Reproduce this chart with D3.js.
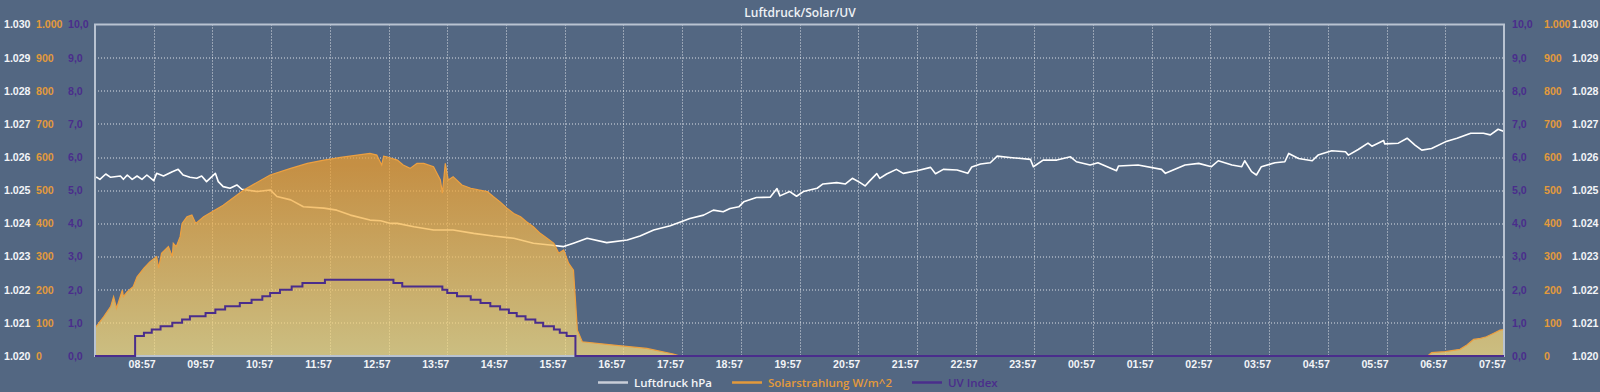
<!DOCTYPE html>
<html>
<head>
<meta charset="utf-8">
<script src="https://cdn.jsdelivr.net/npm/d3@7"></script>
<style>
    html, body { margin: 0; padding: 0; background: #536782; }
    svg { display: block; font-family: "Open Sans", sans-serif; }
    .grid line { stroke: #ffffff; stroke-opacity: 0.8; stroke-dasharray: 1,2; }
    .tick text { font-size: 10.6px; font-weight: 600; }
</style>
</head>
<body>
<div id="chart"></div>
<script>
//----------------------------
// Data
//----------------------------
var title = "Luftdruck/Solar/UV";

var xTickLabels = ["08:57", "09:57", "10:57", "11:57", "12:57", "13:57", "14:57", "15:57", "16:57", "17:57",
    "18:57", "19:57", "20:57", "21:57", "22:57", "23:57", "00:57", "01:57", "02:57", "03:57",
    "04:57", "05:57", "06:57", "07:57"];

var seriesNames = ["Luftdruck hPa", "Solarstrahlung W/m^2", "UV Index"];

// Luftdruck hPa
var pressureTimes = ["07:57", "07:59", "08:02", "08:08", "08:13", "08:23", "08:26", "08:30", "08:35", "08:40",
    "08:45", "08:50", "08:57", "09:00", "09:07", "09:16", "09:22", "09:27", "09:34", "09:41",
    "09:46", "09:51", "10:00", "10:03", "10:08", "10:15", "10:22", "10:27", "10:43", "10:56",
    "11:03", "11:17", "11:30", "11:51", "12:04", "12:18", "12:38", "12:49", "12:59", "13:06",
    "13:23", "13:43", "14:03", "14:24", "14:44", "15:05", "15:25", "15:42", "15:56", "16:06",
    "16:20", "16:40", "17:01", "17:14", "17:28", "17:45", "18:05", "18:19", "18:29", "18:39",
    "18:46", "18:55", "19:00", "19:13", "19:27", "19:34", "19:37", "19:47", "19:54", "20:01",
    "20:15", "20:21", "20:35", "20:44", "20:51", "20:59", "21:04", "21:09", "21:16", "21:19",
    "21:26", "21:36", "21:43", "21:57", "22:11", "22:16", "22:24", "22:38", "22:49", "22:53",
    "23:02", "23:12", "23:19", "23:32", "23:53", "23:56", "00:06", "00:20", "00:34", "00:40",
    "00:54", "01:02", "01:21", "01:23", "01:43", "02:07", "02:11", "02:31", "02:45", "02:58",
    "03:05", "03:19", "03:29", "03:32", "03:39", "03:44", "03:49", "04:03", "04:13", "04:17",
    "04:27", "04:41", "04:47", "05:01", "05:15", "05:18", "05:28", "05:38", "05:42", "05:54",
    "05:55", "06:09", "06:18", "06:26", "06:33", "06:43", "06:57", "07:09", "07:23", "07:36",
    "07:43", "07:51", "07:57"];
var pressureValues = [1025.38, 1025.39, 1025.33, 1025.49, 1025.39, 1025.43, 1025.33, 1025.46, 1025.33, 1025.43,
    1025.33, 1025.46, 1025.29, 1025.51, 1025.43, 1025.56, 1025.63, 1025.46, 1025.39, 1025.36,
    1025.43, 1025.26, 1025.51, 1025.26, 1025.11, 1025.06, 1025.16, 1025.03, 1024.96, 1025.01,
    1024.81, 1024.71, 1024.50, 1024.46, 1024.40, 1024.25, 1024.10, 1024.08, 1024.00, 1024.00,
    1023.90, 1023.80, 1023.80, 1023.70, 1023.62, 1023.55, 1023.40, 1023.35, 1023.30, 1023.40,
    1023.55, 1023.42, 1023.50, 1023.62, 1023.80, 1023.93, 1024.15, 1024.25, 1024.40, 1024.35,
    1024.45, 1024.50, 1024.65, 1024.78, 1024.79, 1025.05, 1024.83, 1024.96, 1024.82, 1024.96,
    1025.06, 1025.19, 1025.23, 1025.19, 1025.36, 1025.23, 1025.13, 1025.29, 1025.50, 1025.36,
    1025.49, 1025.63, 1025.51, 1025.59, 1025.69, 1025.50, 1025.63, 1025.61, 1025.51, 1025.70,
    1025.79, 1025.83, 1026.03, 1025.99, 1025.93, 1025.71, 1025.91, 1025.91, 1026.01, 1025.86,
    1025.76, 1025.83, 1025.59, 1025.73, 1025.76, 1025.63, 1025.51, 1025.76, 1025.81, 1025.71,
    1025.89, 1025.76, 1025.71, 1025.89, 1025.56, 1025.46, 1025.71, 1025.83, 1025.86, 1026.11,
    1025.96, 1025.89, 1026.06, 1026.19, 1026.16, 1026.06, 1026.23, 1026.42, 1026.33, 1026.50,
    1026.40, 1026.42, 1026.57, 1026.36, 1026.21, 1026.26, 1026.46, 1026.57, 1026.72, 1026.72,
    1026.67, 1026.84, 1026.77];

// Solarstrahlung W/m^2
var solarTimes = ["07:57", "07:58", "08:06", "08:13", "08:16", "08:19", "08:25", "08:26", "08:30", "08:36",
    "08:40", "08:47", "08:53", "09:00", "09:02", "09:05", "09:12", "09:16", "09:17", "09:20",
    "09:24", "09:26", "09:31", "09:36", "09:40", "09:48", "10:08", "10:29", "10:56", "11:17",
    "11:34", "11:51", "12:08", "12:25", "12:38", "12:45", "12:50", "12:52", "12:55", "13:06",
    "13:12", "13:19", "13:26", "13:33", "13:43", "13:50", "13:52", "13:55", "13:58", "14:03",
    "14:12", "14:21", "14:29", "14:38", "14:44", "14:51", "14:58", "15:05", "15:12", "15:18",
    "15:25", "15:32", "15:39", "15:46", "15:51", "15:56", "16:01", "16:06", "16:10", "16:15",
    "16:47", "17:21", "17:48", "17:55", "06:39", "06:43", "06:57", "07:12", "07:19", "07:26",
    "07:33", "07:39", "07:46", "07:53", "07:57"];
var solarValues = [85, 88, 119, 149, 179, 144, 199, 179, 194, 209,
    239, 265, 284, 300, 265, 310, 330, 300, 340, 330,
    360, 400, 420, 425, 400, 420, 455, 501, 546, 566,
    581, 591, 599, 606, 611, 606, 576, 603, 601, 591,
    576, 566, 581, 581, 571, 531, 491, 581, 531, 541,
    516, 506, 501, 496, 481, 465, 446, 430, 420, 405,
    390, 370, 355, 340, 310, 320, 280, 259, 78, 43,
    33, 23, 6, 0, 0, 10, 13, 20, 33, 50,
    53, 58, 68, 78, 80];

// UV Index (step changes)
var uvTimes = ["07:57", "08:38", "08:47", "08:55", "09:04", "09:16", "09:26", "09:34", "09:50", "10:00",
    "10:10", "10:25", "10:37", "10:48", "10:56", "11:06", "11:18", "11:29", "11:52", "13:02",
    "13:11", "13:52", "13:57", "14:07", "14:21", "14:31", "14:41", "14:51", "15:00", "15:08",
    "15:17", "15:27", "15:35", "15:46", "15:52", "15:59", "16:08", "07:57"];
var uvValues = [0, 0.6, 0.7, 0.8, 0.9, 1.0, 1.1, 1.2, 1.3, 1.4,
    1.5, 1.6, 1.7, 1.8, 1.9, 2.0, 2.1, 2.2, 2.3, 2.2,
    2.1, 2.0, 1.9, 1.8, 1.7, 1.6, 1.5, 1.4, 1.3, 1.2,
    1.1, 1.0, 0.9, 0.8, 0.7, 0.6, 0, 0];

var pressureTicks = [1020, 1021, 1022, 1023, 1024, 1025, 1026, 1027, 1028, 1029, 1030];
var solarTicks = [0, 100, 200, 300, 400, 500, 600, 700, 800, 900, 1000];
var uvTicks = [0, 1, 2, 3, 4, 5, 6, 7, 8, 9, 10];

//----------------------------
// Layout / colours
//----------------------------
var width = 1600, height = 392;
var margin = {top: 24.5, right: 96, bottom: 36, left: 95};
var innerW = width - margin.left - margin.right,
    innerH = height - margin.top - margin.bottom;

var colWhite = "#ffffff",
    colOrange = "#e39a3b",
    colPurple = "#4a2d8c",
    colFrame = "#b9c3d1";

// German number format (1.030 / 10,0)
var de = d3.formatLocale({decimal: ",", thousands: ".", grouping: [3], currency: ["", " €"]});
var fmtInt = de.format(",.0f"),
    fmtOne = de.format(",.1f");

// parse "HH:MM" strings in order, rolling over to the next day
function toDates(times) {
    var day = 0, prev = -1;
    return times.map(function (t) {
        var p = t.split(":"), m = +p[0] * 60 + +p[1];
        if (m < prev) day++;
        prev = m;
        return new Date(2024, 0, 1 + day, +p[0], +p[1]);
    });
}

var pressureData = toDates(pressureTimes).map((d, i) => ({t: d, v: pressureValues[i]}));
var solarData = toDates(solarTimes).map((d, i) => ({t: d, v: solarValues[i]}));
var uvData = toDates(uvTimes).map((d, i) => ({t: d, v: uvValues[i]}));
var tickDates = toDates(xTickLabels);

//----------------------------
// Scales
//----------------------------
var xScale = d3.scaleTime()
    .domain([new Date(2024, 0, 1, 7, 57), new Date(2024, 0, 2, 7, 57)])
    .range([0, innerW]);
var yPressure = d3.scaleLinear().domain([1020, 1030]).range([innerH, 0]);
var ySolar = d3.scaleLinear().domain([0, 1000]).range([innerH, 0]);
var yUV = d3.scaleLinear().domain([0, 10]).range([innerH, 0]);

var svg = d3.select("#chart")
    .append("svg")
    .attr("width", width)
    .attr("height", height);

svg.append("rect").attr("width", width).attr("height", height).attr("fill", "#536782");

// solar gradient
var grad = svg.append("defs").append("linearGradient")
    .attr("id", "solarGrad")
    .attr("gradientUnits", "userSpaceOnUse")
    .attr("x1", 0).attr("x2", 0)
    .attr("y1", margin.top + ySolar(650))
    .attr("y2", margin.top + ySolar(0));
grad.append("stop").attr("offset", "0%").attr("stop-color", "#f19f2c");
grad.append("stop").attr("offset", "100%").attr("stop-color", "#fbe88c");

// title
svg.append("text")
    .attr("x", margin.left + innerW / 2 + 0.5)
    .attr("y", 17)
    .attr("text-anchor", "middle")
    .attr("fill", "#eef1f5")
    .style("font-size", "12px")
    .style("font-weight", "600")
    .text(title);

var g = svg.append("g")
    .attr("transform", "translate(" + margin.left + "," + margin.top + ")");

//----------------------------
// Grid
//----------------------------
g.append("g")
    .attr("class", "grid")
    .selectAll("line.v")
    .data(tickDates.slice(0, -1))
    .enter().append("line")
    .attr("x1", d => Math.round(xScale(d)) + 0.5)
    .attr("x2", d => Math.round(xScale(d)) + 0.5)
    .attr("y1", 0)
    .attr("y2", innerH);

g.append("g")
    .attr("class", "grid")
    .selectAll("line.h")
    .data(uvTicks.slice(1, -1))
    .enter().append("line")
    .attr("x1", 0)
    .attr("x2", innerW)
    .attr("y1", d => Math.round(yUV(d)) + 0.5)
    .attr("y2", d => Math.round(yUV(d)) + 0.5);

//----------------------------
// Series
//----------------------------
var pressureLine = d3.line()
    .x(d => xScale(d.t))
    .y(d => yPressure(d.v));

g.append("path")
    .datum(pressureData)
    .attr("fill", "none")
    .attr("stroke", colWhite)
    .attr("stroke-width", 1.6)
    .attr("stroke-linejoin", "round")
    .attr("d", pressureLine);

var solarArea = d3.area()
    .x(d => xScale(d.t))
    .y0(innerH)
    .y1(d => ySolar(d.v));

g.append("path")
    .datum(solarData)
    .attr("fill", "url(#solarGrad)")
    .attr("fill-opacity", 0.72)
    .attr("d", solarArea);

g.append("path")
    .datum(solarData)
    .attr("fill", "none")
    .attr("stroke", "#eda040")
    .attr("stroke-width", 1.2)
    .attr("d", d3.line().x(d => xScale(d.t)).y(d => ySolar(d.v)));

// frame
g.append("path")
    .attr("fill", "none")
    .attr("stroke", colFrame)
    .attr("stroke-width", 2)
    .attr("d", "M0," + innerH + "V0H" + innerW + "V" + innerH + "Z");

g.append("path")
    .datum(uvData)
    .attr("fill", "none")
    .attr("stroke", colPurple)
    .attr("stroke-width", 2)
    .attr("d", d3.line().curve(d3.curveStepAfter).x(d => xScale(d.t)).y(d => yUV(d.v)));

//----------------------------
// Axes
//----------------------------
var xAxis = d3.axisBottom(xScale)
    .tickValues(tickDates)
    .tickFormat(d3.timeFormat("%H:%M"))
    .tickSize(0)
    .tickPadding(4);

g.append("g")
    .attr("transform", "translate(0," + innerH + ")")
    .call(xAxis)
    .call(a => a.select(".domain").remove())
    .selectAll("text")
    .attr("fill", "#f2f4f7")
    .attr("text-anchor", "end")
    .attr("dx", "1.5");

function yLabels(x, scale, ticks, fmt, color) {
    svg.append("g")
        .attr("transform", "translate(" + x + "," + margin.top + ")")
        .call(d3.axisRight(scale).tickValues(ticks).tickFormat(fmt).tickSize(0).tickPadding(0))
        .call(a => a.select(".domain").remove())
        .selectAll("text")
        .attr("fill", color);
}

// left side
yLabels(4, yPressure, pressureTicks, fmtInt, "#f2f4f7");
yLabels(36, ySolar, solarTicks, fmtInt, colOrange);
yLabels(68, yUV, uvTicks, fmtOne, colPurple);
// right side
yLabels(1512, yUV, uvTicks, fmtOne, colPurple);
yLabels(1544, ySolar, solarTicks, fmtInt, colOrange);
yLabels(1572, yPressure, pressureTicks, fmtInt, "#f2f4f7");

//----------------------------
// Legend
//----------------------------
var legendColors = ["#c9ced8", colOrange, colPurple];
var legendText = ["#f2f4f7", colOrange, colPurple];
var legend = svg.append("g").attr("class", "legend");
var lx = 0;
seriesNames.forEach(function (name, i) {
    var item = legend.append("g").attr("transform", "translate(" + lx + ",0)");
    item.append("line")
        .attr("x1", 0).attr("x2", 30)
        .attr("y1", 0).attr("y2", 0)
        .attr("stroke", legendColors[i])
        .attr("stroke-width", 2.5);
    var t = item.append("text")
        .attr("x", 36)
        .attr("dy", "0.35em")
        .attr("fill", legendText[i])
        .style("font-size", "11.5px")
        .style("font-weight", "600")
        .text(name);
    lx += 36 + t.node().getComputedTextLength() + 20;
});
lx -= 20;
legend.attr("transform", "translate(" + Math.round(798 - lx / 2) + ",382.5)");
</script>
</body>
</html>
